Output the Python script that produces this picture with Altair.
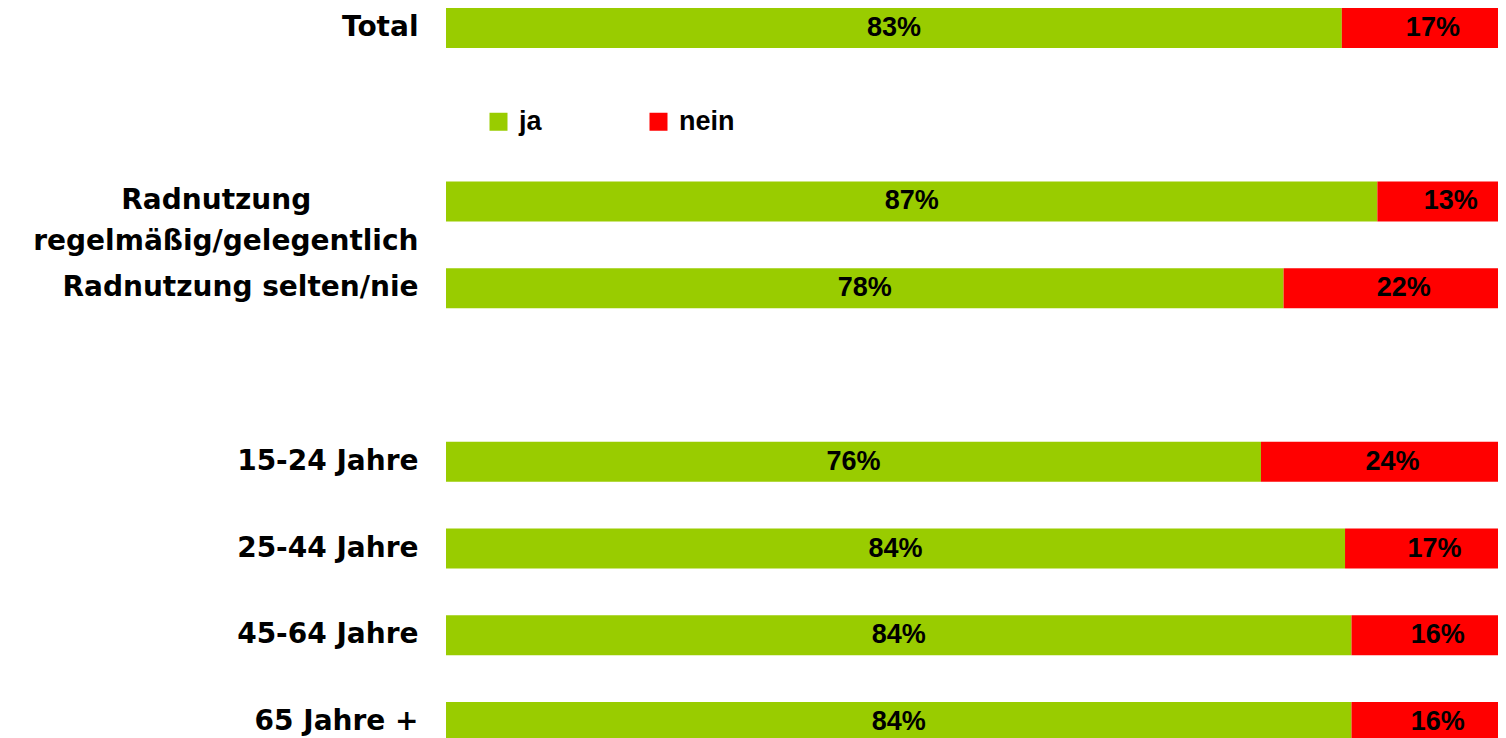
import altair as alt
import pandas as pd

# ---- data ----
categories = [
    "Total",
    "Radnutzung regelmäßig/gelegentlich",
    "Radnutzung selten/nie",
    "15-24 Jahre",
    "25-44 Jahre",
    "45-64 Jahre",
    "65 Jahre +",
]
ja_values = [83.1, 86.4, 77.7, 75.6, 83.4, 84.0, 84.0]
nein_values = [16.9, 13.6, 22.3, 24.4, 16.6, 16.0, 16.0]
ja_labels = ["83%", "87%", "78%", "76%", "84%", "84%", "84%"]
nein_labels = ["17%", "13%", "22%", "24%", "17%", "16%", "16%"]
series = ["ja", "nein"]
colors = ["#99CC00", "#FF0000"]

# row slots (blank slots keep the gaps of the original layout)
row_order = [
    "Total",
    " ",
    "Radnutzung regelmäßig/gelegentlich",
    "Radnutzung selten/nie",
    "  ",
    "15-24 Jahre",
    "25-44 Jahre",
    "45-64 Jahre",
    "65 Jahre +",
]

rows = []
for c, jv, nv, jl, nl in zip(categories, ja_values, nein_values, ja_labels, nein_labels):
    rows.append({"category": c, "series": "ja", "value": jv, "label": jl, "order": 0})
    rows.append({"category": c, "series": "nein", "value": nv, "label": nl, "order": 1})
df = pd.DataFrame(rows)

# first line of the wrapped label is centred over the second one
pad = "\u00a0" * 11 + "\u200b"
label_expr = (
    "datum.value == 'Radnutzung regelmäßig/gelegentlich' ? "
    f"['Radnutzung{pad}', 'regelmäßig/gelegentlich'] : datum.label"
)

y_enc = alt.Y(
    "category:N",
    sort=row_order,
    scale=alt.Scale(domain=row_order, paddingInner=0.539, paddingOuter=0),
    axis=alt.Axis(
        title=None,
        ticks=False,
        domain=False,
        labelExpr=label_expr,
        labelFont="DejaVu Sans",
        labelFontWeight="bold",
        labelFontSize=28,
        labelColor="#000000",
        labelPadding=28,
        labelLineHeight=41,
        labelLimit=0,
        minExtent=438,
        maxExtent=438,
    ),
)

base = alt.Chart(df).transform_stack(
    stack="value",
    groupby=["category"],
    as_=["x0", "x1"],
    sort=[alt.SortField("order", order="ascending")],
).transform_calculate(mid="(datum.x0 + datum.x1) / 2")

x_scale = alt.Scale(domain=[0, 97.59], nice=False, zero=True)

bars = base.mark_bar(strokeWidth=0, clip=True).encode(
    x=alt.X("x0:Q", scale=x_scale, axis=None),
    x2="x1:Q",
    y=y_enc,
    color=alt.Color(
        "series:N",
        scale=alt.Scale(domain=series, range=colors),
        legend=alt.Legend(
            title=None,
            orient="none",
            direction="horizontal",
            legendX=39,
            legendY=100,
            symbolType="square",
            symbolSize=324,
            symbolStrokeWidth=0,
            symbolOpacity=1,
            labelFont="Liberation Sans",
            labelFontWeight="bold",
            labelFontSize=27,
            labelColor="#000000",
            labelOffset=7,
            columnPadding=103,
            padding=0,
        ),
    ),
)

texts = base.mark_text(
    font="Liberation Sans",
    fontWeight="bold",
    fontSize=27,
    color="#000000",
    align="center",
    baseline="middle",
).encode(
    x=alt.X("mid:Q", scale=x_scale, axis=None),
    y=y_enc,
    text="label:N",
)

chart = (
    alt.layer(bars, texts)
    .properties(
        width=1052,
        height=734,
        autosize=alt.AutoSizeParams(type="none"),
        padding={"left": 438, "top": 0, "right": 0, "bottom": 0},
        background="#FFFFFF",
    )
    .configure_view(stroke=None)
)

chart.save("out.html", embed_options={"renderer": "svg", "actions": False})
